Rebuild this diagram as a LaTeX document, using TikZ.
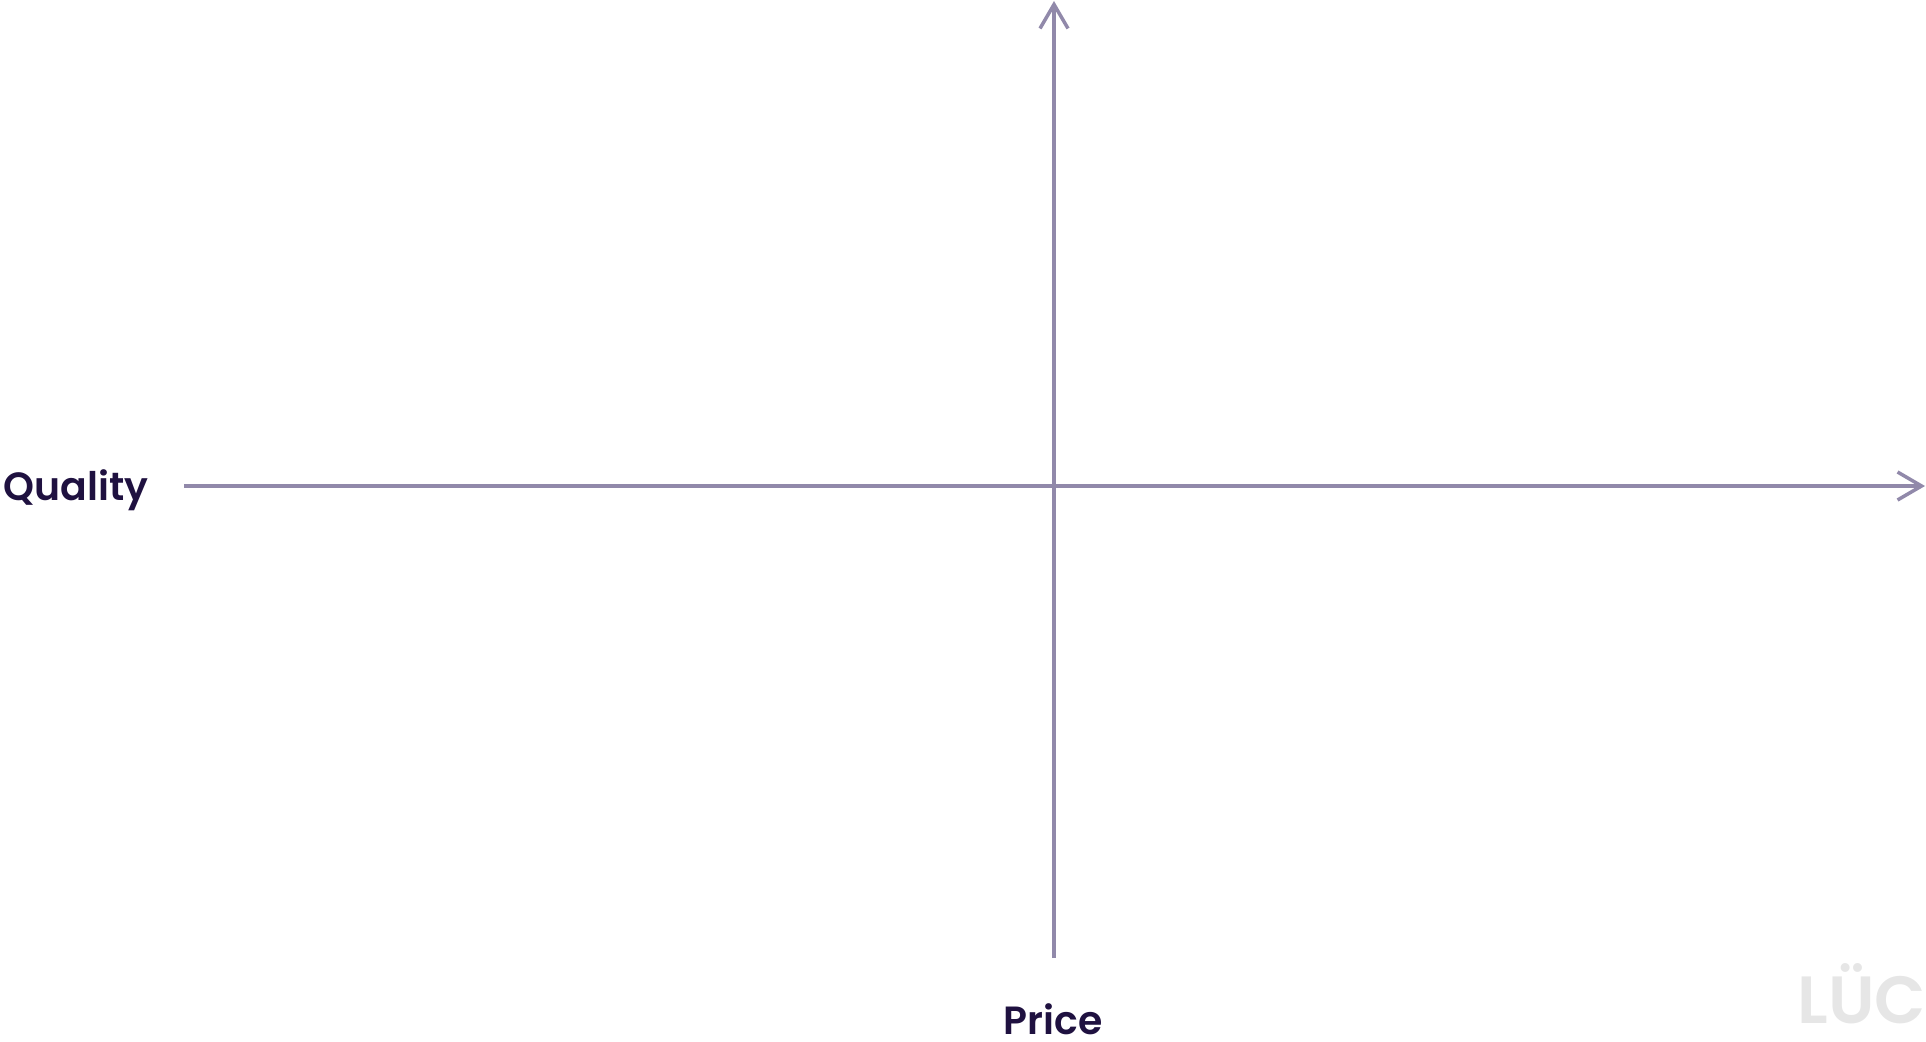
\documentclass[tikz,border=0pt]{standalone}
\usepackage{fontspec}
\setmainfont{Poppins}[BoldFont={Poppins SemiBold}]
\usetikzlibrary{arrows.meta}
\definecolor{axisgray}{HTML}{9189AA}
\definecolor{labelink}{HTML}{1F1140}
\definecolor{markgray}{HTML}{E6E6E6}

\begin{document}
\begin{tikzpicture}[
        axislabel/.style={
            text=labelink,
            anchor=base,
            font=\fontsize{11.2}{13}\selectfont\bfseries,
            inner sep=0pt
        },
        watermark/.style={
            text=markgray,
            anchor=base,
            font=\fontsize{19}{22}\selectfont\bfseries,
            inner sep=0pt
        },
        axisarrow/.style={
            -{Straight Barb[length=0.24cm,width=0.28cm,line width=0.035cm]},
            axisgray,
            line width=0.035cm
        }
    ]
        \useasboundingbox (0,0) rectangle (19.26,10.41);

        % Axis ends
        \coordinate (left) at (1.84,5.55);
        \coordinate (right) at (19.25,5.55);
        \coordinate (bottom) at (10.54,0.83);
        \coordinate (top) at (10.54,10.40);

        % Labels
        \node[axislabel] (quality) at (0.76,5.41) {Quality};
        \node[axislabel] (price) at (10.53,0.07) {Price};
        \node[watermark] (luc) at (18.62,0.18) {LÜC};

        % Axes
        \draw[axisarrow] (left) -- (right);
        \draw[axisarrow] (bottom) -- (top);

    \end{tikzpicture}
\end{document}
